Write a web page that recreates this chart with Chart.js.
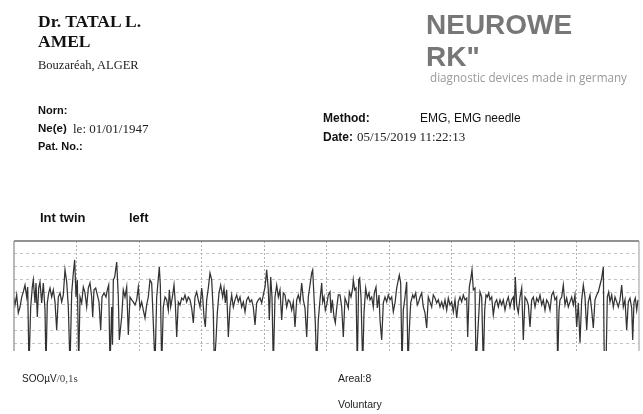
<!DOCTYPE html>
<html>
<head>
<meta charset="utf-8">
<script src="https://cdn.jsdelivr.net/npm/chart.js@4"></script>
<style>
  html, body { margin:0; padding:0; background:#fff; }
  #wrap { position:relative; width:643px; height:414px; overflow:hidden; background:#fff; }
  canvas { position:absolute; left:0; top:0; }
  .t { position:absolute; white-space:nowrap; line-height:1; color:#111; }
  .serif { font-family:"Liberation Serif","Times New Roman",serif; }
  .sans { font-family:"Liberation Sans",Arial,sans-serif; }
  .b { font-weight:bold; }
</style>
</head>
<body>
<div id="wrap">
  <canvas id="c" width="643" height="414"></canvas>
  <div class="t serif b" style="left:38px;top:13px;font-size:17.5px;">Dr. TATAL L.</div>
  <div class="t serif b" style="left:38px;top:33px;font-size:17.5px;">AMEL</div>
  <div class="t serif" style="left:38px;top:59px;font-size:12.5px;color:#222;">Bouzaréah, ALGER</div>
  <div class="t sans b" style="left:38px;top:105px;font-size:11px;">Norn:</div>
  <div class="t sans b" style="left:38px;top:123px;font-size:11.5px;">Ne(e)</div>
  <div class="t serif" style="left:73px;top:122px;font-size:13px;color:#222;">le: 01/01/1947</div>
  <div class="t sans b" style="left:38px;top:141px;font-size:11px;">Pat. No.:</div>

  <div class="t sans b" style="left:426px;top:11px;font-size:28px;color:#777;">NEUROWE</div>
  <div class="t sans b" style="left:426px;top:43px;font-size:28px;color:#777;">RK"</div>
  <div class="t" style="left:430px;top:72px;font-size:11.7px;color:#9a9a9a;font-family:'Open Sans',sans-serif;">diagnostic devices made in germany</div>
  <div class="t sans b" style="left:323px;top:112px;font-size:12px;">Method:</div>
  <div class="t sans" style="left:420px;top:112px;font-size:12px;">EMG, EMG needle</div>
  <div class="t sans b" style="left:323px;top:131px;font-size:12px;">Date:</div>
  <div class="t serif" style="left:357px;top:130px;font-size:13px;color:#222;">05/15/2019 11:22:13</div>

  <div class="t sans b" style="left:40px;top:211px;font-size:13px;">Int twin</div>
  <div class="t sans b" style="left:129px;top:211px;font-size:13px;">left</div>

  <div class="t sans" style="left:22px;top:373px;font-size:10px;color:#222;">SOOµV<span class="serif" style="font-size:11px;color:#444;">/0,1s</span></div>
  <div class="t sans" style="left:338px;top:373px;font-size:10.5px;color:#222;">Areal:8</div>
  <div class="t sans" style="left:338px;top:399px;font-size:10.5px;color:#222;">Voluntary</div>
</div>
<script>
// time (ms) and amplitude (µV); scale 500 µV / 0.1 s per division
const timesMs = [
  0,1.6,4.3,6.9,9.6,12.3,14.9,17.6,20.3,21.9,
  24,26.7,29.3,30.9,33.6,35.2,37.3,39.5,41.6,44.3,
  46.9,49.6,51.2,53.3,55.5,57.6,60.3,62.9,65.6,68.3,
  70.9,73.6,76.3,78.9,81.6,84.3,86.9,89.6,92.3,94.9,
  97.1,99.2,101.3,103.5,105.6,108.3,110.9,113.6,116.3,118.9,
  121.6,124.3,125.9,128,130.7,133.3,136,138.7,140.8,144,
  147.2,149.3,151.5,153.6,156.3,157.6,158.9,161.1,164.3,166.9,
  168.5,172.3,174.9,177.6,180.3,182.9,185.6,188.3,190.9,193.6,
  196.3,198.9,201.6,204.3,206.9,209.6,212.3,214.9,217.6,220.3,
  222.9,225.6,228.3,232.5,234.1,236.3,238.9,241.6,244.3,246.9,
  248.5,250.7,253.9,256,258.1,260.3,262.9,265.6,268.3,270.9,
  273.6,276.3,278.9,281.6,284.3,286.9,289.6,292.3,294.9,297.6,
  300.3,301.9,304,306.1,308.3,310.9,313.6,316.3,318.9,320.5,
  323.2,325.3,328,330.7,333.9,336,338.1,340.3,342.9,345.6,
  348.3,350.9,353.6,356.3,358.9,361.6,364.3,366.9,369.6,372.3,
  374.9,377.6,380.3,382.9,385.6,388.3,390.9,393.6,396.3,398.9,
  401.6,404.3,406.9,408.5,410.7,412.8,414.9,417.6,420.3,422.9,
  425.6,428.3,430.9,433.6,436.3,438.9,441.6,444.3,446.9,449.6,
  452.3,454.9,457.6,460.3,462.9,465.6,468.3,470.9,473.6,476.3,
  477.9,480,482.1,484.3,486.9,489.6,492.3,493.9,496,498.1,
  500.3,502.9,505.6,507.2,509.3,512,514.1,516.3,518.9,521.6,
  524.3,526.9,529.6,532.3,534.9,536.5,539.2,541.9,542.9,545.1,
  547.2,549.3,551.5,553.1,555.2,557.9,560,562.7,565.3,568,
  569.6,572.3,574.9,576.5,579.2,581.3,584,585.6,588.3,590.9,
  593.6,596.3,598.9,601.6,604.3,606.9,609.6,612.3,614.9,616.5,
  618.7,620.8,622.9,625.6,628.3,630.4,632.5,634.7,637.9,640,
  642.7,645.3,647.5,649.6,652.3,654.9,657.6,660.3,662.9,665.6,
  668.3,670.9,673.6,676.3,678.9,681.6,684.3,686.9,689.6,692.3,
  694.9,697.6,700.3,702.9,705.6,708.3,710.9,713.6,716.3,718.9,
  721.6,724.3,725.9,728.5,731.2,732.8,734.9,737.6,739.2,745.6,
  748.3,750.9,753.1,755.2,757.3,759.5,761.6,764.3,766.9,769.6,
  772.3,774.9,777.6,780.3,782.9,785.6,788.3,790.9,793.6,796.3,
  798.9,800.5,802.1,804.3,806.9,809.6,812.3,814.9,817.6,820.3,
  822.9,825.6,828.3,830.9,833.6,836.3,838.9,841.6,844.3,846.9,
  849.6,852.3,854.9,857.6,860.3,862.9,865.6,868.3,869.9,872,
  873.6,876.3,878.9,881.6,884.3,886.9,889.6,892.3,894.9,897.6,
  900.3,902.9,905.6,908.3,910.9,913.6,916.3,918.9,921.6,924.3,
  926.9,929.6,932.3,934.9,937.6,940.3,942.9,944.5,947.2,949.3,
  951.5,953.6,956.3,958.9,961.6,964.3,966.9,969.6,972.3,974.9,
  977.6,980.3,982.9,985.6,988.3,989.9,992,994.1,996.3,998.4
];
const amplitudeUV = [
  270,0,390,-310,-80,310,510,780,310,700,
  -2400,-80,700,980,80,860,-470,660,900,80,
  860,-200,-2400,80,470,660,310,590,120,-980,
  310,470,120,390,1370,900,-80,-2400,470,1250,
  1760,310,980,-2400,310,80,700,470,-80,660,
  860,310,-470,590,660,390,120,-980,310,470,
  310,590,780,-2400,-80,-1560,980,1090,1680,310,
  -1370,-470,590,310,700,-1170,310,200,120,0,
  200,700,-120,120,-200,-510,0,310,980,860,
  -700,-2400,310,1480,780,-2400,-80,310,200,-200,
  590,-80,390,780,80,-1250,120,0,270,200,
  390,120,310,200,-120,-700,310,510,200,-80,
  660,310,-470,-860,200,660,1250,980,-310,-2400,
  -1370,-310,470,780,310,660,80,590,-1250,-80,
  390,-80,200,390,120,310,-80,120,-270,200,
  310,120,200,-80,-780,80,200,270,80,390,
  700,1370,590,-590,1090,310,-2400,310,780,310,
  590,-590,470,390,-80,200,120,-200,120,-860,
  200,390,120,860,200,-120,-1250,310,780,1250,
  1370,310,-700,-2400,-590,200,860,120,310,-200,
  0,390,510,-310,200,-470,-700,-120,390,390,
  -80,-1250,270,80,-120,510,310,660,980,590,
  660,-2400,980,1050,310,-2400,-310,660,270,470,
  200,310,-80,470,700,-120,390,-590,-1370,80,
  310,120,390,200,310,-270,80,660,980,1170,
  860,-2400,-200,310,900,-2400,-980,80,390,270,
  470,0,120,310,470,-80,-310,-900,310,120,
  -80,390,270,80,200,-80,120,-120,200,-200,
  270,0,120,-270,200,-510,120,310,120,390,
  200,270,-1250,700,1090,1370,590,660,-2400,510,
  310,-2400,-200,390,310,470,200,310,-390,80,
  200,-80,200,0,200,-200,120,310,-80,200,
  310,-200,1090,0,-310,310,660,-1370,310,200,
  0,-860,200,310,-80,270,120,390,0,200,
  -200,200,80,-200,390,510,200,310,-2400,-200,
  200,310,780,0,270,-80,120,310,0,390,
  -860,80,-1480,200,780,310,-980,120,390,-200,
  -900,200,390,510,780,1050,1480,-2400,-2400,310,
  510,120,390,-80,310,120,-80,200,780,-80,
  200,-980,120,270,-120,-1370,120,270,-200,200
];
// axis ranges (time 0–1 s in ms, amplitude in µV); one division = 100 ms / 500 µV
const xRange = [0, 1000];
const yRange = [-1800, 2500];
const xGridMs = [100, 200, 300, 400, 500, 600, 700, 800, 900];
const yGridUV = [-1500, -1000, -500, 0, 500, 1000, 1500, 2000];

const points = timesMs.map((t, i) => ({ x: t, y: amplitudeUV[i] }));

const framePlugin = {
  id: 'frame',
  afterDatasetsDraw(chart) {
    const { ctx, chartArea: a } = chart;
    ctx.save();
    ctx.setLineDash([]);
    ctx.strokeStyle = '#6e6e6e';
    ctx.lineWidth = 1.6;
    ctx.beginPath(); ctx.moveTo(a.left, a.top); ctx.lineTo(a.right, a.top); ctx.stroke();
    ctx.strokeStyle = '#8a8a8a';
    ctx.lineWidth = 1.2;
    ctx.beginPath(); ctx.moveTo(a.left, a.top); ctx.lineTo(a.left, a.bottom); ctx.stroke();
    ctx.strokeStyle = '#9a9a9a';
    ctx.lineWidth = 1;
    ctx.beginPath(); ctx.moveTo(a.right, a.top); ctx.lineTo(a.right, a.bottom); ctx.stroke();
    ctx.restore();
  }
};

new Chart(document.getElementById('c'), {
  type: 'line',
  data: {
    datasets: [{
      data: points,
      borderColor: '#333333',
      borderWidth: 1.25,
      pointRadius: 0,
      tension: 0,
      fill: false
    }]
  },
  options: {
    responsive: false,
    animation: false,
    devicePixelRatio: 1,
    layout: { padding: { left: 14, right: 4, top: 241, bottom: 63 } },
    plugins: { legend: { display: false }, tooltip: { enabled: false } },
    scales: {
      x: {
        type: 'linear',
        min: xRange[0], max: xRange[1],
        afterBuildTicks: s => { s.ticks = xGridMs.map(v => ({ value: v })); },
        ticks: { display: false },
        grid: { drawTicks: false, color: '#b0b0b0', lineWidth: 1 },
        border: { display: false, dash: [2, 2] }
      },
      y: {
        type: 'linear',
        min: yRange[0], max: yRange[1],
        afterBuildTicks: s => { s.ticks = yGridUV.map(v => ({ value: v })); },
        ticks: { display: false },
        grid: { drawTicks: false, color: '#c4c4c4', lineWidth: 1 },
        border: { display: false, dash: [3, 3] }
      }
    }
  },
  plugins: [framePlugin]
});
</script>
</body>
</html>
